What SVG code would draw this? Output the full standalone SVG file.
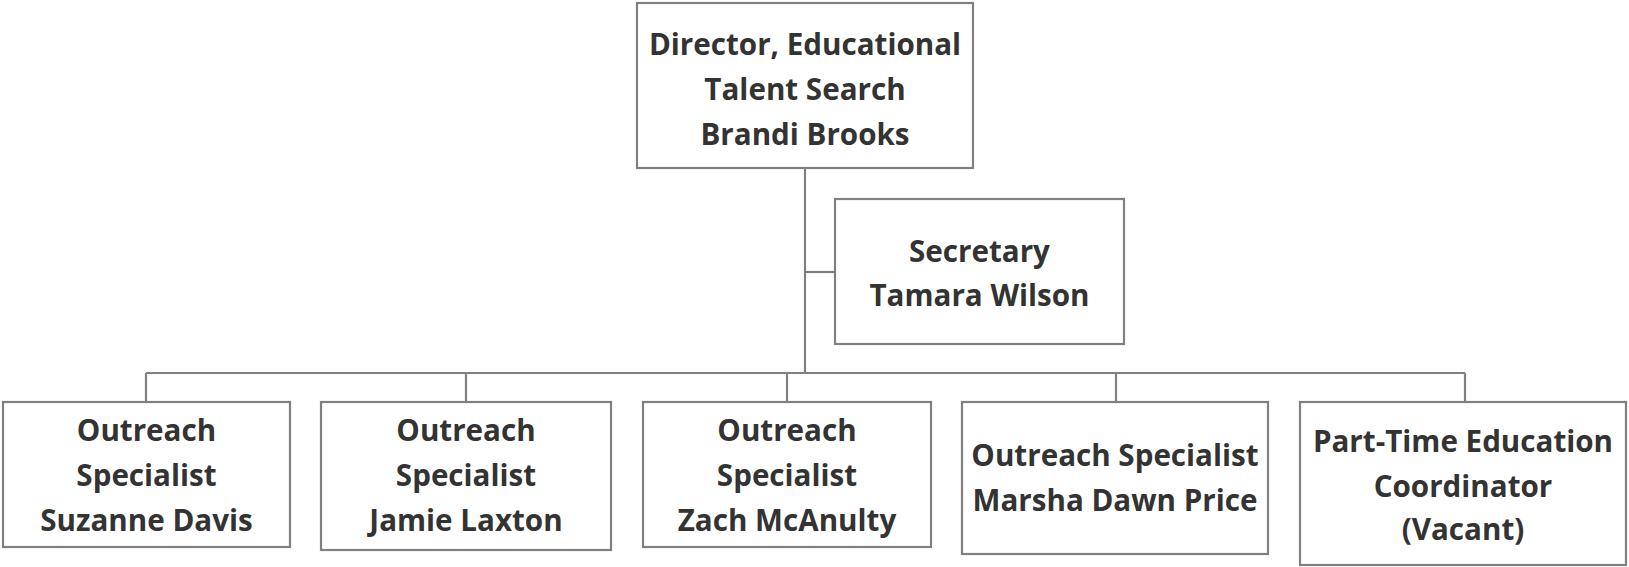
<svg xmlns="http://www.w3.org/2000/svg" width="1629" height="567" viewBox="0 0 1629 567">
<style>
.box{fill:#fff;stroke:#808080;stroke-width:2.2}
.ln{fill:none;stroke:#808080;stroke-width:2.2}
text{font-family:"Open Sans","Noto Sans","Liberation Sans",sans-serif;font-weight:700;font-size:29.6px;fill:#333;text-anchor:middle}
</style>
<rect width="1629" height="567" fill="#fff"/>
<g id="connectors">
<path class="ln" d="M805 168V373"/>
<path class="ln" d="M805 272H835"/>
<path class="ln" d="M146 373H1465"/>
<path class="ln" d="M146 373V402M466 373V402M787 373V402M1116 373V402M1465 373V402"/>
</g>
<g id="director">
<rect class="box" x="637" y="3" width="336" height="165"/>
<text x="805" y="55">Director, Educational</text>
<text x="805" y="100">Talent Search</text>
<text x="805" y="145">Brandi Brooks</text>
</g>
<g id="secretary">
<rect class="box" x="835" y="199" width="289" height="145"/>
<text x="979.5" y="262">Secretary</text>
<text x="979.5" y="306">Tamara Wilson</text>
</g>
<g id="davis">
<rect class="box" x="3" y="402" width="287" height="145"/>
<text x="146.5" y="441">Outreach</text>
<text x="146.5" y="486">Specialist</text>
<text x="146.5" y="531">Suzanne Davis</text>
</g>
<g id="laxton">
<rect class="box" x="321" y="402" width="290" height="148"/>
<text x="466" y="441">Outreach</text>
<text x="466" y="486">Specialist</text>
<text x="466" y="531">Jamie Laxton</text>
</g>
<g id="mcanulty">
<rect class="box" x="643" y="402" width="288" height="145"/>
<text x="787" y="441">Outreach</text>
<text x="787" y="486">Specialist</text>
<text x="787" y="531">Zach McAnulty</text>
</g>
<g id="price">
<rect class="box" x="962" y="402" width="306" height="152"/>
<text x="1115" y="466">Outreach Specialist</text>
<text x="1115" y="511">Marsha Dawn Price</text>
</g>
<g id="coordinator">
<rect class="box" x="1300" y="402" width="326" height="163"/>
<text x="1463" y="452">Part-Time Education</text>
<text x="1463" y="497">Coordinator</text>
<text x="1463" y="540">(Vacant)</text>
</g>
</svg>
